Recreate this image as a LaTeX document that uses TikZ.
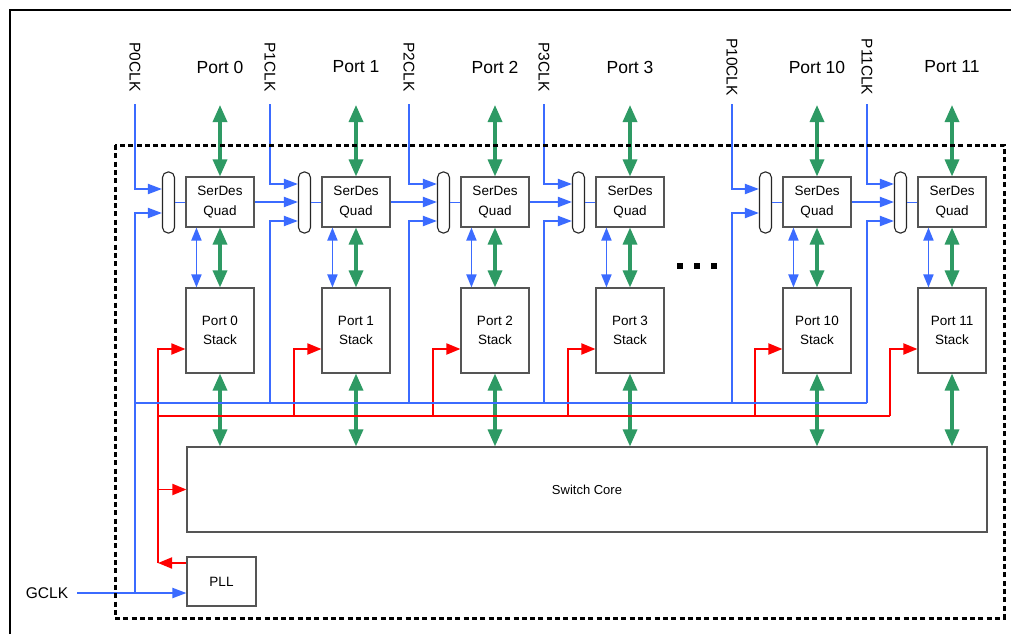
\documentclass[tikz,border=0pt]{standalone}
\usepackage{fontspec}
\setmainfont{Liberation Sans}
\usetikzlibrary{arrows.meta,calc}
\definecolor{cblue}{HTML}{3B6BFF}
\definecolor{cgreen}{HTML}{2E9A64}
\definecolor{cred}{HTML}{FF0000}
\definecolor{cbox}{HTML}{555555}
\begin{document}
\begin{tikzpicture}[x=1pt,y=-1pt,
  box/.style={draw=cbox,line width=1.1pt,fill=white,inner sep=0pt,align=center,font=\fontsize{13.5}{19.5}\selectfont},
  serdes/.style={box,minimum width=68pt,minimum height=50pt},
  stack/.style={box,minimum width=68pt,minimum height=85pt},
  mux/.style={draw=black!85,line width=1.1pt,fill=white,minimum width=12pt,minimum height=61pt,rounded corners=5.5pt,inner sep=0pt},
  portlbl/.style={font=\fontsize{17.5}{20}\selectfont,inner sep=0pt},
  clklbl/.style={font=\fontsize{15.5}{18}\selectfont,rotate=-90,inner sep=0pt},
  gline/.style={draw=cgreen,line width=3.3pt,{Triangle[length=17pt,width=14pt]}-{Triangle[length=17pt,width=14pt]}},
  bline/.style={draw=cblue,line width=1.9pt},
  barrow/.style={bline,-{Triangle[length=14pt,width=10pt]}},
  bdouble/.style={bline,{Triangle[length=13pt,width=10pt]}-{Triangle[length=13pt,width=10pt]}},
  rline/.style={draw=cred,line width=1.9pt},
  rarrow/.style={rline,-{Triangle[length=14pt,width=11pt]}}
]
\useasboundingbox (0,0) rectangle (1011,634);
\fill[white] (0,0) rectangle (1011,634);
% outer frame (top and left)
\draw[line width=2pt] (10,634) -- (10,10) -- (1011,10);

% switch core and PLL
\node[box,minimum width=800pt,minimum height=85pt,font=\fontsize{13}{15}\selectfont] (sw) at (587,489.5) {Switch Core};
\node[box,minimum width=69pt,minimum height=49pt] (pll) at (221.5,581.5) {PLL};
\node[font=\fontsize{15.5}{18}\selectfont,inner sep=0pt] (gclk) at (47,593) {GCLK};

% coordinates for buses
\coordinate (gs) at (77,593);
\coordinate (gj) at (135,593);
\coordinate (rp) at (158,563);

% columns
\foreach \i/\cx/\ck/\ta/\tb in {0/220/135/-13.5/10.5, 1/356/270/-18.5/18.5, 2/495/409/-18.5/18.5, 3/630/544/-18.5/18.5, 10/817/732/-13.5/10.5, 11/952/867/-18.5/18.5}{
  \node[serdes] (sd\i) at (\cx,202) {SerDes\\Quad};
  \node[stack] (st\i) at (\cx,330.5) {Port \i\\Stack};
  \node[mux] (mx\i) at (\cx-51.5,202.5) {};
  \node[portlbl] (pl\i) at (\cx,67) {Port \i};
  \node[clklbl] (cl\i) at (\ck,67) {P\i CLK};
  \coordinate (ctop\i) at (\ck,104);
  \coordinate (ptop\i) at (\cx,105);
  \coordinate (bj\i) at (\ck,403);
  \coordinate (rj\i) at (\cx-62,416);
  % green data paths
  \draw[gline] (ptop\i) -- (sd\i.north);
  \draw[gline] (sd\i.south) -- (st\i.north);
  \draw[gline] (st\i.south) -- (st\i.south |- sw.north);
  % blue control between serdes and stack
  \draw[bdouble] ($(sd\i.south west)+(11,0)$) -- ($(st\i.north west)+(11,0)$);
  % mux output
  \draw[bline] (mx\i.east) -- (mx\i.east -| sd\i.west);
  % clock input to mux
  \draw[barrow] (ctop\i) |- ($(mx\i.west)+(0,\ta)$);
  % bus clock to mux
  \draw[barrow] (bj\i) |- ($(mx\i.west)+(0,\tb)$);
  % red clock to stack
  \draw[rarrow] (rj\i) |- ($(st\i.west)+(0,18.5)$);
}

% chained serdes clocks
\draw[barrow] (sd0.east) -- (sd0.east -| mx1.west);
\draw[barrow] (sd1.east) -- (sd1.east -| mx2.west);
\draw[barrow] (sd2.east) -- (sd2.east -| mx3.west);
\draw[barrow] (sd10.east) -- (sd10.east -| mx11.west);

% blue bus
\draw[bline] (bj0) -- (bj11);
\draw[bline] (gj) -- (bj0);
\draw[barrow] (gs) -- (gs -| pll.west);

% red bus
\draw[rline] (rj0) -- (rj11);
\draw[rline] (rp) -- (rj0);
\draw[rarrow] (pll.west |- rp) -- (rp);
\draw[rarrow] (rp |- sw.west) -- (sw.west);

% ellipsis dots
\fill (677,263) rectangle +(6,6);
\fill (694,263) rectangle +(6,6);
\fill (711,263) rectangle +(6,6);

% dashed boundary
\draw[line width=3pt,dash pattern=on 5pt off 3.3pt] (115,145) rectangle (1004,618);
\end{tikzpicture}
\end{document}
